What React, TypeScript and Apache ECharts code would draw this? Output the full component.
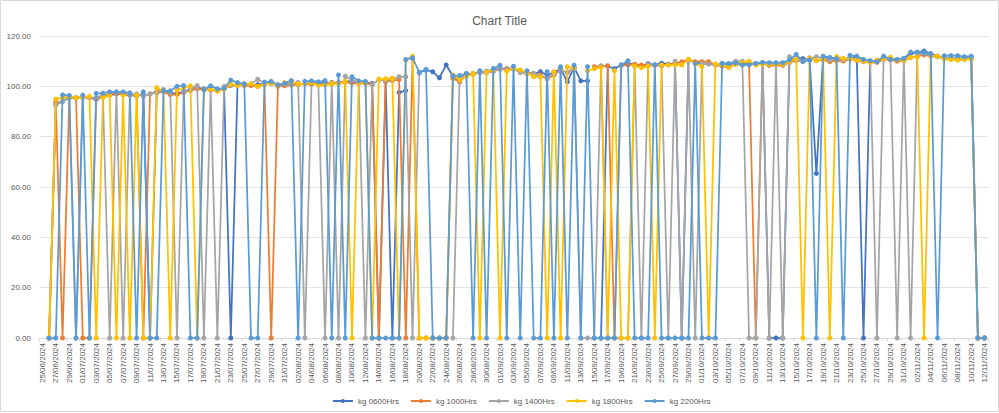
import React, { useEffect, useRef } from "react";
import * as echarts from "echarts";

const categories = [
  "25/06/2024","26/06/2024","27/06/2024","28/06/2024","29/06/2024","30/06/2024",
  "01/07/2024","02/07/2024","03/07/2024","04/07/2024","05/07/2024","06/07/2024","07/07/2024","08/07/2024","09/07/2024","10/07/2024",
  "11/07/2024","12/07/2024","13/07/2024","14/07/2024","15/07/2024","16/07/2024","17/07/2024","18/07/2024","19/07/2024","20/07/2024",
  "21/07/2024","22/07/2024","23/07/2024","24/07/2024","25/07/2024","26/07/2024","27/07/2024","28/07/2024","29/07/2024","30/07/2024","31/07/2024",
  "01/08/2024","02/08/2024","03/08/2024","04/08/2024","05/08/2024","06/08/2024","07/08/2024","08/08/2024","09/08/2024","10/08/2024",
  "11/08/2024","12/08/2024","13/08/2024","14/08/2024","15/08/2024","16/08/2024","17/08/2024","18/08/2024","19/08/2024","20/08/2024",
  "21/08/2024","22/08/2024","23/08/2024","24/08/2024","25/08/2024","26/08/2024","27/08/2024","28/08/2024","29/08/2024","30/08/2024","31/08/2024",
  "01/09/2024","02/09/2024","03/09/2024","04/09/2024","05/09/2024","06/09/2024","07/09/2024","08/09/2024","09/09/2024","10/09/2024",
  "11/09/2024","12/09/2024","13/09/2024","14/09/2024","15/09/2024","16/09/2024","17/09/2024","18/09/2024","19/09/2024","20/09/2024",
  "21/09/2024","22/09/2024","23/09/2024","24/09/2024","25/09/2024","26/09/2024","27/09/2024","28/09/2024","29/09/2024","30/09/2024",
  "01/10/2024","02/10/2024","03/10/2024","04/10/2024","05/10/2024","06/10/2024","07/10/2024","08/10/2024","09/10/2024","10/10/2024",
  "11/10/2024","12/10/2024","13/10/2024","14/10/2024","15/10/2024","16/10/2024","17/10/2024","18/10/2024","19/10/2024","20/10/2024",
  "21/10/2024","22/10/2024","23/10/2024","24/10/2024","25/10/2024","26/10/2024","27/10/2024","28/10/2024","29/10/2024","30/10/2024","31/10/2024",
  "01/11/2024","02/11/2024","03/11/2024","04/11/2024","05/11/2024","06/11/2024","07/11/2024","08/11/2024","09/11/2024","10/11/2024","11/11/2024","12/11/2024",
];

const kg0600 = [
  null,0,93,94,95.5,95.5,95.7,95.5,94.8,96.2,
  96.5,97,97,96.5,96.2,96.8,0,97.5,98,97.5,
  97,98,98.5,99.5,99,98.7,98.5,99,0,101,
  100.7,100.5,100.7,101,101.5,100.5,101,101,101,101,
  101.5,101,101.5,101,101.5,102,102,101.5,101.5,101.2,
  0,102,0,97.6,98.3,null,105.5,106.5,105.8,103.4,
  108.5,104,102,105,105,105.5,106,106.5,107,107,
  107,106,105.5,105,105.8,104.5,105.5,107,101.8,107.5,
  102.2,102.2,null,0,108,107,108.5,109,108.8,108,
  109,108.5,109.2,108.8,109,0,110.5,109.5,109,109,
  108.5,109,108.5,109.5,109,109,109,109.2,0,0,
  0,110,111,111,110.5,65.4,111.5,111,111,110.5,
  111.5,111.5,0,110,110,111.5,111,110.5,111,113,
  113.5,114,113,112,111.5,111.2,111,111.2,111.5,0,0,
];

const kg1000 = [
  null,0,94,0,95.7,95.5,0,0,95,96,
  97,97,97,96.5,96.5,0,97,98,97.8,96.7,
  96.8,97.5,98.5,99,98.8,98.5,98.3,99,100.3,100.5,
  100.3,100.3,100,100.8,0,100,100.2,100.5,100.7,101,
  100.8,101,100.8,101.6,101.3,101.7,101.3,101.2,101.2,100.8,
  0,102,102.3,102.7,0,111,0,0,0,0,
  0,103.1,101.8,104.5,105,105.5,105.5,106,106.8,106.9,
  107,106,105.2,105.1,104.5,103,104.5,106.5,105.5,107.5,
  null,null,107.8,108,108.2,0,108.2,108.5,108.7,108.5,
  108.5,108.3,108.3,108.5,109,109.8,110.5,109.8,109.8,109.8,
  108.5,108,107.5,108.8,108.5,108.8,0,109,108.3,108.5,
  108.3,109.5,110.2,110,111.3,110.2,110.5,109.8,110.2,110,
  110.8,110.3,109.8,109.5,109.5,110.8,110.5,110,110.2,111.5,
  112,112.5,112,111.8,111,110.8,110.6,110.8,111,0,0,
];

const kg1400 = [
  null,0,92.5,94,95.8,0,95.5,95.5,95.5,96.5,
  0,97.8,0,96.8,97,96,97,97.8,98.8,97.5,
  0,98,99,100.3,0,99,0,100,100.5,100.5,
  101,101,102.8,101.3,101,100.5,100.8,101,101.6,0,
  101.8,101.5,0,101.5,0,104,102.5,101.5,0,100.8,
  102.5,102.5,102.8,103.8,103.8,0,105.2,null,null,null,
  null,0,104,104.5,104.8,105.5,105.5,106,106.8,106.5,
  107,105.5,105,105,104,103.1,105,106,105.5,107,
  0,0,0,108.2,0,0,0,0,108,0,
  108.6,108.5,108,0,110,0,110,0,109,108.8,
  108.5,109,109,110,110,0,0,109.3,0,109,
  0,111.8,110.5,110,111,111.8,111,110.5,111,110.5,
  111,111,110.5,110,0,111.5,110.7,0,111,0,
  113,113,112.5,111.8,111.5,111,110.8,111,111.2,0,0,
];

const kg1800 = [
  null,0,95,95.5,95.8,95.5,95.8,96,0,95.5,
  96.5,0,96.5,0,96.5,0,0,99.5,98,0,
  98.5,99.5,100.2,0,98.5,99,98,99,101,100.3,
  100.8,101,100,101,101.3,100.5,101.5,102,101,101,
  101.5,100.5,100.5,101,101,102,0,101.5,101.5,0,
  102.9,103,103.2,0,110.5,112,0,0,0,0,
  0,104.5,102.5,104,105.1,0,105.8,106.5,0,106,
  107,106.5,105.5,103.8,103.8,0,105.8,0,107.8,107,
  null,106.2,107,107.5,0,106.2,0,0,108.2,107.4,
  108,0,108.5,108.5,108.5,108.5,110.8,109,107.8,0,
  108.9,108.5,107.5,108.8,109.5,110,108.5,108.8,108.8,109,
  108.8,109.8,111,0,111,110.3,110.7,0,111.8,111.1,
  111,110.5,110,109.5,110.5,111,111.5,110.5,110.5,111.5,
  111.7,0,112.5,112,110.8,110.7,110.4,110.8,110.8,0,0,
];

const kg2200 = [
  null,0,0,96.6,96.4,0,96.5,0,97.2,97.3,
  97.8,97.7,97.8,97.4,0,97.8,0,0,98.2,98.2,
  100,100.3,0,0,98.6,100.2,99,99.2,102.5,101.5,
  101,0,0,101.7,102,100.6,101.2,102.3,0,102,
  102.2,101.8,102.3,0,104.5,0,103.8,102.2,102,0,
  0,0,0,0,110.7,111.3,105.6,106.7,0,0,
  0,104.2,104.3,105.1,0,106.2,0,107.1,108.4,0,
  108,0,106.2,0,0,105.8,0,107.8,0,108.4,
  0,107.8,0,0,0,0,108.5,110.2,0,0,
  0,108.5,0,0,0,0,0,109.1,0,0,
  0,109.1,109.1,109.3,108.5,108.5,109.1,109.5,109.4,109.4,
  109.4,110.5,112.7,109.8,110.5,0,112,111.5,111,0,
  112.3,112,110.7,110.2,109.8,112,110.7,110.7,111.1,113.6,
  113.6,113.3,112.8,0,112.2,112.2,112.2,111.8,112,0,0,
];

const seriesNames = ["kg 0600Hrs", "kg 1000Hrs", "kg 1400Hrs", "kg 1800Hrs", "kg 2200Hrs"];
const seriesColors = ["#4472C4", "#ED7D31", "#A5A5A5", "#FFC000", "#5B9BD5"];
const seriesValues = [kg0600, kg1000, kg1400, kg1800, kg2200];

const FONT = "'Liberation Sans', Arial, sans-serif";
const TEXT = "#595959";

export default function App() {
  const ref = useRef<HTMLDivElement>(null);

  useEffect(() => {
    document.body.style.margin = "0";
    const chart = echarts.init(ref.current!, undefined, { renderer: "svg" });
    chart.setOption({
      animation: false,
      backgroundColor: "#ffffff",
      textStyle: { fontFamily: FONT },
      title: {
        text: "Chart Title",
        left: "center",
        top: 10,
        textStyle: { fontFamily: FONT, fontSize: 12, fontWeight: "normal", color: TEXT },
      },
      graphic: [
        {
          type: "rect",
          shape: { x: 0.5, y: 0.5, width: 998, height: 411 },
          style: { fill: "none", stroke: "#D9D9D9", lineWidth: 1 },
          silent: true,
        },
      ],
      grid: { left: 39, right: 11, top: 36, bottom: 75, containLabel: false },
      legend: {
        data: seriesNames,
        left: 327,
        top: 392,
        itemWidth: 20,
        itemHeight: 5,
        itemGap: 11,
        textStyle: { fontFamily: FONT, fontSize: 8, color: TEXT },
      },
      xAxis: {
        type: "category",
        data: categories,
        boundaryGap: true,
        axisLine: { lineStyle: { color: "#D9D9D9", width: 1 } },
        axisTick: { show: true, interval: 1, length: 3, lineStyle: { color: "#D9D9D9" } },
        axisLabel: { interval: 1, rotate: 90, margin: 5, fontFamily: FONT, fontSize: 8, color: TEXT },
        splitLine: { show: false },
      },
      yAxis: {
        type: "value",
        min: 0,
        max: 120,
        interval: 20,
        axisLine: { show: false },
        axisTick: { show: false },
        axisLabel: {
          margin: 8,
          fontFamily: FONT,
          fontSize: 8,
          color: TEXT,
          formatter: (v: number) => v.toFixed(2),
        },
        splitLine: { lineStyle: { color: "#E4E4E4", width: 1 } },
      },
      series: seriesNames.map((name, k) => ({
        name,
        type: "line",
        data: seriesValues[k],
        connectNulls: false,
        showSymbol: true,
        showAllSymbol: true,
        symbol: "circle",
        symbolSize: 5,
        lineStyle: { color: seriesColors[k], width: 1.75 },
        itemStyle: { color: seriesColors[k] },
        emphasis: { disabled: true },
        z: 2 + k,
      })),
    });
    return () => chart.dispose();
  }, []);

  return <div ref={ref} style={{ width: 999, height: 413 }} />;
}
